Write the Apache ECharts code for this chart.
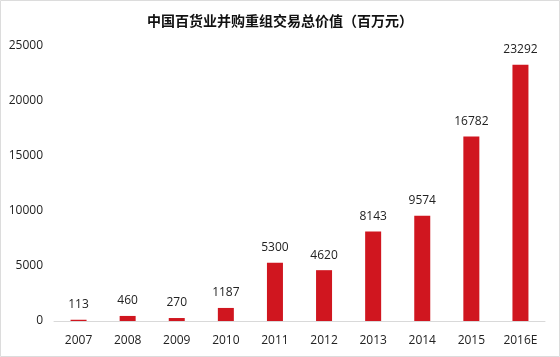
<!DOCTYPE html>
<html><head><meta charset="utf-8">
<script src="https://cdn.jsdelivr.net/npm/echarts@6/dist/echarts.min.js"></script>
<style>html,body{margin:0;padding:0;background:#fff}#c{width:560px;height:357px}</style>
</head><body><div id="c"></div>
<script>
var categories = ['2007','2008','2009','2010','2011','2012','2013','2014','2015','2016E'];
var values = [113,460,270,1187,5300,4620,8143,9574,16782,23292];
var titleText = '中国百货业并购重组交易总价值（百万元）';
var chart = echarts.init(document.getElementById('c'));
var font = '"Open Sans", "Noto Sans CJK SC", sans-serif';
chart.setOption({
  animation: false,
  backgroundColor: '#fff',
  title: {text: titleText, left: 'center', top: 9,
    textStyle: {fontSize: 14, fontWeight: 'bold', color: '#111', fontFamily: '"Noto Sans CJK SC", sans-serif'}},
  grid: {left: 54, right: 15, top: 46, bottom: 36},
  xAxis: {type: 'category', data: categories,
    axisLine: {show: true, lineStyle: {color: '#d9d9d9', width: 1}},
    axisTick: {show: false},
    axisLabel: {color: '#222', fontSize: 12, margin: 14, fontFamily: font}},
  yAxis: {type: 'value', min: 0, max: 25000, interval: 5000,
    axisLine: {show: false}, axisTick: {show: false},
    splitLine: {show: false},
    axisLabel: {color: '#222', fontSize: 12, margin: 11, fontFamily: font,
      formatter: function (v) { return String(v); }}},
  series: [{type: 'bar', data: values, barWidth: 16,
    itemStyle: {color: '#d0161f'},
    label: {show: true, position: 'top', distance: 9, color: '#222', fontSize: 12, fontFamily: font}}],
  graphic: [{type: 'rect', shape: {x: 0.5, y: 0.5, width: 559, height: 356},
    style: {fill: 'none', stroke: '#dcdcdc', lineWidth: 1}, silent: true}]
});
</script></body></html>
